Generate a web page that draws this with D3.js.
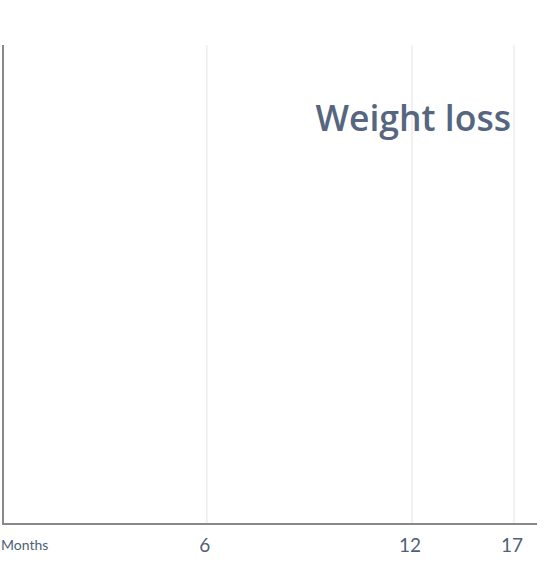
<!DOCTYPE html>
<html>
<head>
<meta charset="utf-8">
<script src="https://cdn.jsdelivr.net/npm/d3@7"></script>
<style>
  body { margin: 0; background: #fff; }
  svg { display: block; }
  .tick-label { font-family: Lato, "Open Sans", sans-serif; fill: #4f5f77; }
</style>
</head>
<body>
<div id="chart"></div>
<script>
const monthTicks = [6, 12, 17]
const monthStops = [0, 6, 12, 17, 17.5]
const axisTitle = 'Months'
const chartTitle = 'Weight loss'

const width = 550, height = 570
const margin = { top: 45, right: 13, bottom: 46, left: 3 }

const svg = d3.select('#chart')
  .append('svg')
  .attr('width', width)
  .attr('height', height)

const innerW = width - margin.left - margin.right

// time axis is not uniform: the last stretch is compressed
const x = d3.scaleLinear()
  .domain(monthStops)
  .range([0, 0.3816, 0.7659, 0.9569, 1].map(f => margin.left + f * innerW))

const y = d3.scaleLinear().domain([0, 1]).range([height - margin.bottom, margin.top])

const grid = svg.append('g')
grid.selectAll('line')
  .data(monthTicks)
  .enter()
  .append('line')
  .attr('x1', d => x(d))
  .attr('x2', d => x(d))
  .attr('y1', y(1))
  .attr('y2', y(0))
  .attr('stroke', '#ececec')
  .attr('stroke-width', 1.5)

// axes
svg.append('line')
  .attr('x1', margin.left)
  .attr('x2', margin.left)
  .attr('y1', y(1))
  .attr('y2', y(0))
  .attr('stroke', '#888')
  .attr('stroke-width', 2)

svg.append('line')
  .attr('x1', margin.left - 1)
  .attr('x2', x(17.5))
  .attr('y1', y(0))
  .attr('y2', y(0))
  .attr('stroke', '#888')
  .attr('stroke-width', 2)

svg.append('g')
  .selectAll('text')
  .data(monthTicks)
  .enter()
  .append('text')
  .attr('class', 'tick-label')
  .attr('x', d => x(d) - 2)
  .attr('y', y(0) + 28)
  .attr('text-anchor', 'middle')
  .attr('font-size', 19)
  .text(d => d)

svg.append('text')
  .attr('class', 'tick-label')
  .attr('x', 1)
  .attr('y', y(0) + 26)
  .attr('font-size', 14)
  .text(axisTitle)

svg.append('text')
  .attr('x', x(17) - 3)
  .attr('y', 131)
  .attr('text-anchor', 'end')
  .attr('font-family', '"Open Sans", Lato, sans-serif')
  .attr('font-weight', 600)
  .attr('font-size', 35.5)
  .attr('fill', '#56667e')
  .text(chartTitle)
</script>
</body>
</html>
